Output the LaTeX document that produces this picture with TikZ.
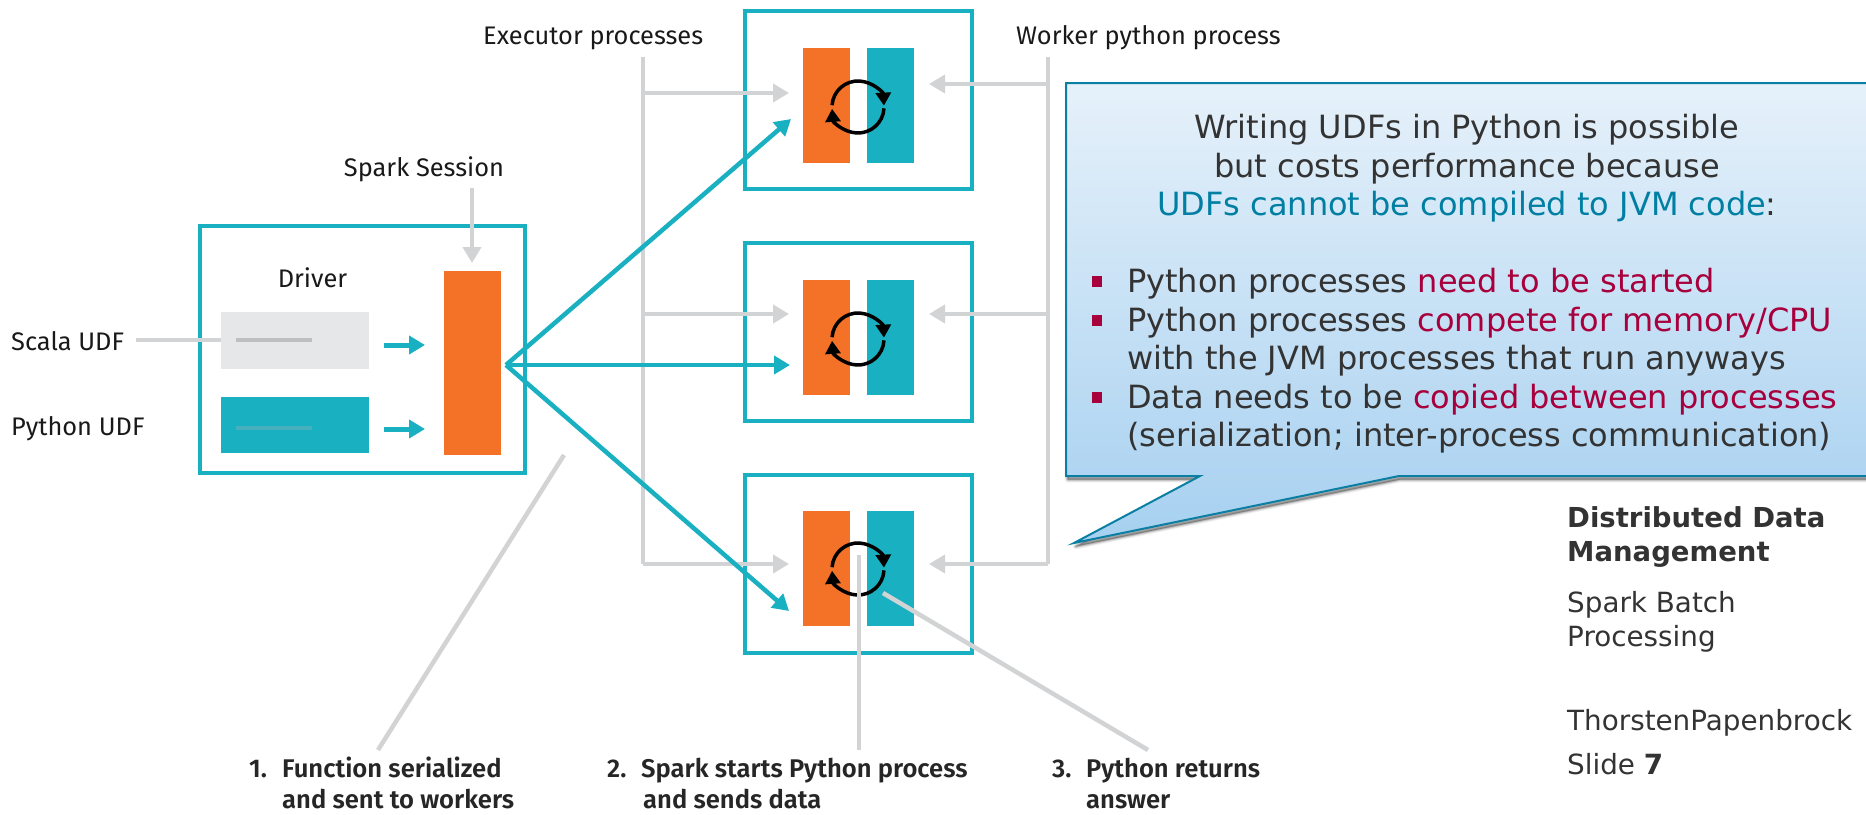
\documentclass[tikz,border=0pt]{standalone}
\usepackage{fontspec}
\setmainfont{Fira Sans}
\newfontfamily\stepfont{Fira Sans SemiBold}
\newfontfamily\vfont{DejaVu Sans}
\usetikzlibrary{arrows.meta,calc}
\definecolor{teal1}{HTML}{19B0C2}
\definecolor{orange1}{HTML}{F47228}
\definecolor{grey1}{HTML}{D1D3D4}
\definecolor{grey2}{HTML}{E6E7E8}
\definecolor{redt}{HTML}{A8003C}
\definecolor{bluet}{HTML}{007FA3}
\definecolor{dark}{HTML}{333333}
\definecolor{calltop}{HTML}{E6F1FA}
\definecolor{callbot}{HTML}{A6D0F0}
\definecolor{callline}{HTML}{0B7FA3}
\tikzset{
  framebox/.style={draw=teal1,line width=4.5pt,fill=white,inner sep=0pt,outer sep=0pt},
  greyline/.style={draw=grey1,line width=4.5pt},
  greyarrow/.style={greyline,-{Triangle[length=16pt,width=18pt]}},
  tealarrow/.style={draw=teal1,line width=4.5pt,-{Triangle[length=16pt,width=18pt]}},
  spin/.style={draw=black,line width=3.5pt,-{Triangle[length=13pt,width=15pt]}},
  lab/.style={inner sep=0pt,font=\fontsize{25.4}{25}\selectfont,text=black!90},
  steplab/.style={inner sep=0pt,anchor=base west,font=\stepfont\fontsize{25.6}{25}\selectfont,text=black!85},
  ctext/.style={inner sep=0pt,anchor=base,font=\vfont\fontsize{32}{34}\selectfont,text=dark},
  ltext/.style={inner sep=0pt,anchor=base west,font=\vfont\fontsize{32}{34}\selectfont,text=dark},
  bullet/.style={draw=none,fill=redt,minimum width=9.5pt,minimum height=11pt,inner sep=0pt},
  stext/.style={inner sep=0pt,anchor=base west,font=\vfont\fontsize{27.8}{30}\selectfont,text=dark},
}
\begin{document}
\begin{tikzpicture}[x=1pt,y=-1pt]
\useasboundingbox (0,0) rectangle (1866,814);
% executor boxes
\foreach \n/\a/\c in {1/11/48,2/243/280,3/475/511}{
  \node[framebox,minimum width=227pt,minimum height=178pt,anchor=north west] (exec\n) at (745,\a) {};
  \fill[orange1] (803,\c) rectangle +(47,115);
  \fill[teal1] (867,\c) rectangle +(47,115);
}
% driver
\node[framebox,minimum width=325pt,minimum height=247pt,anchor=north west] (driver) at (200,226) {};
\node[fill=grey2,inner sep=0,minimum width=148pt,minimum height=57pt,anchor=north west] (scalabox) at (221,312) {};
\node[fill=teal1,inner sep=0,minimum width=148pt,minimum height=56pt,anchor=north west] (pybox) at (221,397) {};
\node[fill=orange1,inner sep=0,minimum width=57pt,minimum height=184pt,anchor=north west] (session) at (444,271) {};
\node[lab] (driverlab) at (312.5,278) {Driver};
\node[lab,anchor=west] (scalalab) at (11,341) {Scala UDF};
\node[lab,anchor=west] (pylab) at (11,429) {Python UDF};
\node[lab] (sparklab) at (424,169) {Spark Session};
\node[lab,anchor=west] (execlab) at (483,38) {Executor processes};
\node[lab,anchor=west] (worklab) at (1016,38) {Worker python process};
% inner marks
\coordinate (s1) at (236,340); \coordinate (s2) at (312,340);
\coordinate (p1) at (236,428); \coordinate (p2) at (312,428);
\draw[draw=black!25,line width=4pt] (s1) -- (s2);
\draw[draw=black!30,line width=4pt,opacity=.3] (p1) -- (p2);
\coordinate (scalaend) at (136,340);
\draw[greyline] (scalaend) -- (scalabox.west |- scalaend);
% driver arrows
\coordinate (a1) at (384,345); \coordinate (a2) at (425,345);
\coordinate (b1) at (384,429); \coordinate (b2) at (425,429);
\draw[tealarrow,line width=5pt] (a1) -- (a2);
\draw[tealarrow,line width=5pt] (b1) -- (b2);
\coordinate (ss1) at (472,188); \coordinate (ss2) at (472,263);
\draw[greyarrow] (ss1) -- (ss2);
% executor grey connectors
\coordinate (ex0) at (643,57); \coordinate (exb) at (643,564);
\coordinate (wk0) at (1048,57); \coordinate (wkb) at (1048,564);
\draw[greyline] (ex0) -- (exb);
\draw[greyline] (wk0) -- (wkb);
\foreach \yl/\yr in {93/84,314/314,564/564}{
  \coordinate (lt) at (789,\yl); \coordinate (rt) at (929,\yr);
  \draw[greyarrow] (ex0 |- lt) -- (lt);
  \draw[greyarrow] (wk0 |- rt) -- (rt);
}
% teal fan
\coordinate (hub) at (506,365);
\coordinate (t1) at (791,119); \coordinate (t2) at (790,365); \coordinate (t3) at (789,611);
\draw[tealarrow] (hub) -- (t1);
\draw[tealarrow] (hub) -- (t2);
\draw[tealarrow] (hub) -- (t3);
% spinners (the y axis is flipped: negative angles lie above the centre)
\foreach \cy in {107,339,569}{
  \draw[spin] (858,\cy) ++(-176:26) arc[start angle=-176,end angle=-3,radius=26];
  \draw[spin] (858,\cy) ++(3:26) arc[start angle=3,end angle=176,radius=26];
}
% leader lines
\coordinate (l1a) at (564,455); \coordinate (l1b) at (378,750);
\coordinate (l2a) at (859,555); \coordinate (l2b) at (859,750);
\coordinate (l3a) at (883,593); \coordinate (l3b) at (1148,750);
\draw[greyline] (l1a) -- (l1b);
\draw[greyline] (l2a) -- (l2b);
\draw[greyline] (l3a) -- (l3b);
% step labels
\node[steplab] (n1) at (249,777) {1.};
\node[steplab] (t1a) at (282,777) {Function serialized};
\node[steplab] (t1b) at (282,808.5) {and sent to workers};
\node[steplab] (n2) at (607,777) {2.};
\node[steplab] (t2a) at (641,777) {Spark starts Python process};
\node[steplab] (t2b) at (643,808.5) {and sends data};
\node[steplab] (n3) at (1052,777) {3.};
\node[steplab] (t3a) at (1086,777) {Python returns};
\node[steplab] (t3b) at (1086,808.5) {answer};
% callout
\def\callpath{(1066,83) -- (1880,83) -- (1880,476) -- (1399,476) -- (1074,543) -- (1200,476) -- (1066,476) -- cycle}
\foreach \k/\o in {6/.04,4.5/.06,3/.10,1.5/.14}{
  \fill[black,opacity=\o,line join=round,line width=\k pt,draw=black,draw opacity=\o] [shift={(1.5,3.5)}] \callpath;
}
\shade[top color=calltop,bottom color=callbot,draw=callline,line width=2pt,line join=miter,shading angle=0] \callpath;
% callout text
\node[ctext] (c1) at (1467,138) {Writing UDFs in Python is possible};
\node[ctext] (c2) at (1467,177) {but costs performance because};
\node[ctext] (c3) at (1467,215) {\textcolor{bluet}{UDFs cannot be compiled to JVM code}:};
\node[bullet] (b1) at (1097,281) {}; \node[ltext] (l1) at (1127,292) {Python processes \textcolor{redt}{need to be started}};
\node[bullet] (b2) at (1097,320) {}; \node[ltext] (l2) at (1127,331) {Python processes \textcolor{redt}{compete for memory/CPU}};
\node[ltext] (l3) at (1127,369) {with the JVM processes that run anyways};
\node[bullet] (b3) at (1097,397) {}; \node[ltext] (l4) at (1127,408) {Data needs to be \textcolor{redt}{copied between processes}};
\node[ltext] (l5) at (1127,446) {(serialization; inter-process communication)};
% side panel
\node[stext,font=\vfont\fontsize{27.5}{30}\bfseries\selectfont] (d1) at (1567,527) {Distributed Data};
\node[stext,font=\vfont\fontsize{27.5}{30}\bfseries\selectfont] (d2) at (1567,561) {Management};
\node[stext] (d3) at (1567,612) {Spark Batch};
\node[stext] (d4) at (1567,646) {Processing};
\node[stext] (d5) at (1567,730) {ThorstenPapenbrock};
\node[stext] (d6) at (1567,774) {Slide \textbf{7}};
\end{tikzpicture}
\end{document}
